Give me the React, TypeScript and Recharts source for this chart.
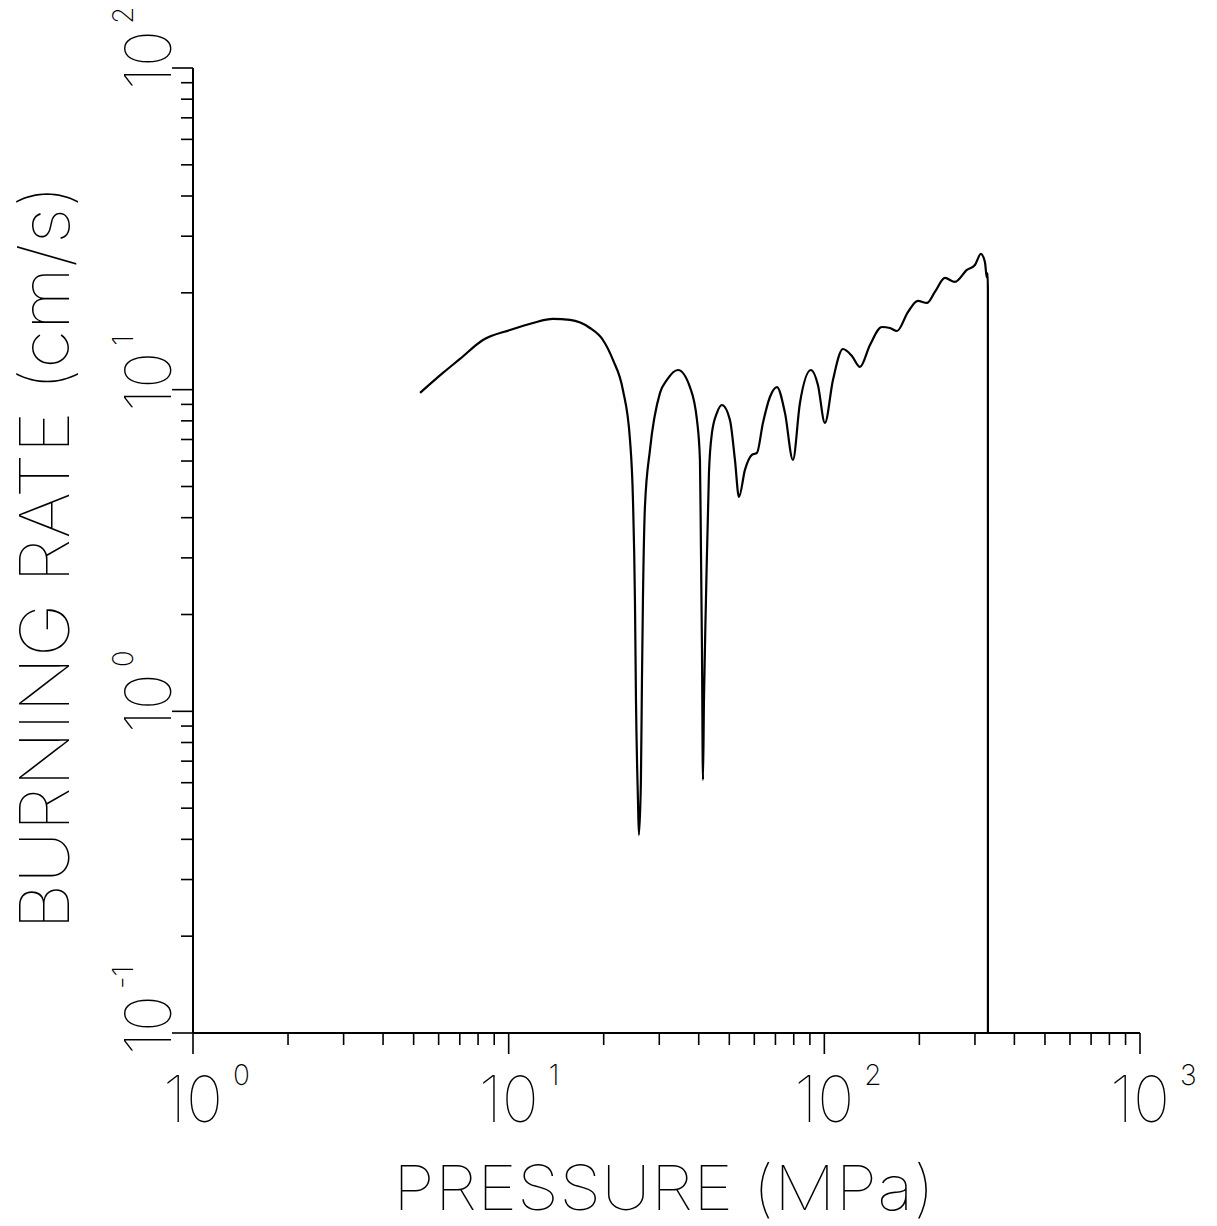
import React from "react";
import { LineChart, Line, XAxis, YAxis } from "recharts";

const pressure = [
  5.24, 6.19, 7.01, 8.29, 10.1, 11.94, 13.81, 15.64, 18.09, 19.89, 21.4, 23.01, 24.23, 24.76, 25.12,
  25.31, 25.68, 25.86, 26.24, 26.44, 26.63, 27.02, 28.03, 30.16, 31.72, 34.38, 37.52, 39.49, 40.36,
  40.66, 40.96, 41.26, 41.56, 42.17, 43.1, 44.06, 45.69, 47.38, 50.23, 52.1, 53.64, 56.04, 58.97,
  61.16, 63.9, 67.25, 70.77, 75.04, 79.53, 83.7, 90.7, 95.43, 100.4, 106.5, 114.5, 122.3, 129.7,
  139.5, 152.2, 161.4, 169.8, 184.0, 197.9, 211.3, 224.0, 241.0, 259.3, 282.9, 299.9, 313.3, 322.6,
  327.3, 329.0, 329.7, 329.8,
];
const burningRate = [
  9.77, 11.27, 12.46, 14.27, 15.33, 16.12, 16.59, 16.47, 15.55, 14.27, 12.37, 9.98, 6.98, 4.54, 2.22,
  1.085, 0.53, 0.413, 0.612, 1.252, 2.22, 4.32, 6.5, 9.77, 10.72, 11.51, 10.19, 8.05, 6.05,
  3.18, 1.552, 0.612, 1.085, 2.22, 5.51, 7.34, 8.47, 8.96, 8.05, 6.05, 4.64, 5.63, 6.27,
  6.36, 7.88, 9.49, 10.19, 8.47, 6.05, 9.09, 11.51, 10.34, 7.88, 10.72, 13.38, 12.73, 11.77,
  13.77, 15.66, 15.55, 15.22, 17.43, 18.87, 18.6, 20.13, 22.25, 21.62, 23.56, 24.42, 26.42, 24.95,
  22.3, 23.0, 20.4, 0.1,
];

const xTicks = [1, 2, 3, 4, 5, 6, 7, 8, 9, 10, 20, 30, 40, 50, 60, 70, 80, 90, 100, 200, 300, 400, 500, 600, 700, 800, 900, 1000];
const yTicks = [0.1, 0.2, 0.3, 0.4, 0.5, 0.6, 0.7, 0.8, 0.9, 1, 2, 3, 4, 5, 6, 7, 8, 9, 10, 20, 30, 40, 50, 60, 70, 80, 90, 100];
const majorExp: Record<string, string> = { "0.1": "-1", "1": "0", "10": "1", "100": "2", "1000": "3" };

const xTitle = "PRESSURE (MPa)";
const yTitle = "BURNING RATE (cm/s)";

const data = pressure.map((p, i) => ({ p, r: burningRate[i] }));

const FONT = "Inter, 'DejaVu Sans', sans-serif";
const W = 100;
const WS = 200;

const XTick = (props: any) => {
  const { x, y, payload } = props;
  const exp = majorExp[String(payload.value)];
  const major = exp !== undefined;
  return (
    <g>
      <line x1={x} y1={y} x2={x} y2={y + (major ? 21 : 12)} stroke="#000" strokeWidth={1.6} />
      {major && (
        <g>
          <text x={x - 30} y={y + 89} fontFamily={FONT} fontWeight={W} fontSize={64} fill="#000" textLength={60} lengthAdjust="spacingAndGlyphs">10</text>
          <text x={x + 40} y={y + 52} fontFamily={FONT} fontWeight={WS} fontSize={28} fill="#000">{exp}</text>
        </g>
      )}
    </g>
  );
};

const YTick = (props: any) => {
  const { x, y, payload } = props;
  const exp = majorExp[String(payload.value)];
  const major = exp !== undefined;
  return (
    <g>
      <line x1={x - (major ? 21 : 12)} y1={y} x2={x} y2={y} stroke="#000" strokeWidth={1.6} />
      {major && (
        <g transform={`translate(${x - 22},${y + 22}) rotate(-90)`}>
          <text x={0} y={0} fontFamily={FONT} fontWeight={W} fontSize={64} fill="#000" textLength={60} lengthAdjust="spacingAndGlyphs">10</text>
          <text x={66} y={-38} fontFamily={FONT} fontWeight={WS} fontSize={28} fill="#000">{exp}</text>
        </g>
      )}
    </g>
  );
};

export default function App() {
  return (
    <div style={{ width: 1217, height: 1226, margin: "-8px 0 0 -8px", background: "#fff" }}>
      <LineChart width={1217} height={1226} data={data} margin={{ top: 68, right: 77, bottom: 8, left: 0 }}>
        <XAxis
          dataKey="p"
          type="number"
          scale="log"
          domain={[1, 1000]}
          ticks={xTicks}
          interval={0}
          allowDataOverflow
          height={185}
          tickLine={false}
          tickSize={0}
          tickMargin={0}
          axisLine={{ stroke: "#000", strokeWidth: 2 }}
          tick={<XTick />}
        />
        <YAxis
          dataKey="r"
          type="number"
          scale="log"
          domain={[0.1, 100]}
          ticks={yTicks}
          interval={0}
          allowDataOverflow
          width={193}
          tickLine={false}
          tickSize={0}
          tickMargin={0}
          axisLine={{ stroke: "#000", strokeWidth: 2 }}
          tick={<YTick />}
        />
        <Line dataKey="r" type="monotoneX" stroke="#000" strokeWidth={2.2} dot={false} isAnimationActive={false} />
        <text x={393} y={1210} fontFamily={FONT} fontWeight={W} fontSize={62} fill="#000" textLength={542} lengthAdjust="spacingAndGlyphs">{xTitle}</text>
        <text transform="translate(69,930) rotate(-90)" x={0} y={0} fontFamily={FONT} fontWeight={W} fontSize={68} fill="#000" textLength={745} lengthAdjust="spacingAndGlyphs">{yTitle}</text>
      </LineChart>
    </div>
  );
}
